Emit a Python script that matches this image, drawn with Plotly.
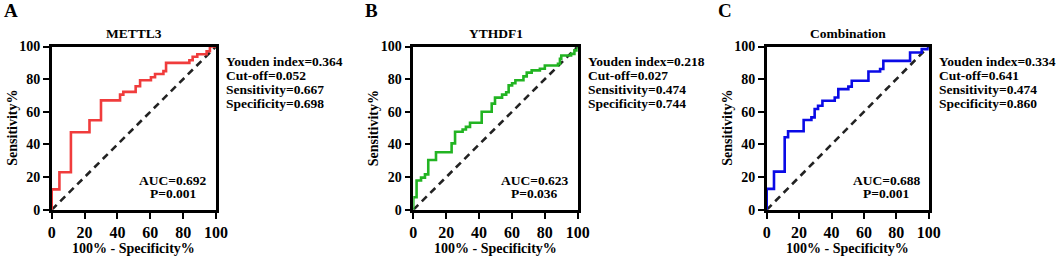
import plotly.graph_objects as go

W, H = 1056, 257

# ---------------- data ----------------
panel_letters = ["A", "B", "C"]
panel_titles = ["METTL3", "YTHDF1", "Combination"]
line_colors = ["#F03C3C", "#22B422", "#0A0AE6"]

fpr_A = [0, 0, 4.7, 11.7, 23, 30, 41.6, 43.6, 51.1, 53.8, 60.4, 62.9, 68, 69.6, 83.8, 85.8, 88.6, 94.3, 96.3, 100]
tpr_A = [0, 12.5, 23, 47.5, 54.8, 67, 70.5, 72.2, 75.7, 79.3, 81.2, 83.2, 84.9, 90, 91.6, 93.7, 95.3, 97.1, 100, 100]

fpr_B = [0, 0, 2, 4.7, 7.1, 9.1, 13.8, 23.3, 25.4, 30, 32, 34.5, 41.6, 47.7, 49.7, 54, 56.5, 58, 60.1, 62.1, 67, 69, 72, 77, 80, 88, 89.2, 90, 96, 98, 100]
tpr_B = [0, 7.7, 17.9, 19.7, 21.7, 30.5, 35.2, 40.7, 47.8, 49.2, 50.8, 53.3, 60, 65, 68.7, 70.5, 72, 76.2, 77.5, 79.3, 81.7, 84, 85.4, 86.4, 88.4, 89.4, 92.5, 94.5, 95.5, 97.6, 100]

fpr_C = [0, 0, 4.5, 11.1, 13.2, 22.8, 27.6, 29.6, 31.7, 34.4, 42, 44.2, 50.4, 52.5, 62.8, 70, 72, 88.5, 95.7, 100]
tpr_C = [0, 12.8, 23.4, 44.4, 48.1, 55, 56.6, 61.7, 63.7, 66.8, 68.8, 73.9, 75.4, 79, 84.7, 86.2, 91.2, 96.3, 98.4, 100]

youden = ["0.364", "0.218", "0.334"]
cutoff = ["0.052", "0.027", "0.641"]
sensitivity = ["0.667", "0.474", "0.474"]
specificity = ["0.698", "0.744", "0.860"]
auc = ["0.692", "0.623", "0.688"]
pval = ["0.001", "0.036", "0.001"]

tick_vals = [0, 20, 40, 60, 80, 100]
x_title = "100% - Specificity%"
y_title = "Sensitivity%"

# ---------------- layout geometry (pixels) ----------------
plot_x = [(51.7, 216.0), (413.3, 577.7), (766.7, 928.7)]
plot_top, plot_bot = 46.5, 209.8
letter_x = [2, 363, 716]

FONT = "Liberation Serif"

def px(x):
    return x / W

def py(y):
    return 1 - y / H

fig = go.Figure()
curves = [(fpr_A, tpr_A), (fpr_B, tpr_B), (fpr_C, tpr_C)]

annotations = []

def ann(x, y, text, size, xanchor="center", angle=0):
    annotations.append(dict(xref="paper", yref="paper", x=px(x), y=py(y),
                            xanchor=xanchor, yanchor="middle", text=f"<b>{text}</b>",
                            showarrow=False, textangle=angle,
                            font=dict(family=FONT, size=size, color="black")))

for i in range(3):
    xa = "x" if i == 0 else f"x{i+1}"
    ya = "y" if i == 0 else f"y{i+1}"
    fx, ty = curves[i]
    fig.add_trace(go.Scatter(x=[0, 100], y=[0, 100], mode="lines",
                             line=dict(color="#222222", width=2.6, dash="7px,5px"),
                             xaxis=xa, yaxis=ya, showlegend=False, hoverinfo="skip",
                             cliponaxis=False))
    fig.add_trace(go.Scatter(x=fx, y=ty, mode="lines", line_shape="hv",
                             line=dict(color=line_colors[i], width=2.6),
                             xaxis=xa, yaxis=ya, showlegend=False))
    axis_common = dict(range=[0, 100], tickvals=tick_vals, showgrid=False, zeroline=False,
                       showline=True, linecolor="black", linewidth=2.5, mirror=True,
                       ticks="outside", ticklen=6, tickwidth=2, tickcolor="black",
                       fixedrange=True, automargin=False)
    xkey = "xaxis" if i == 0 else f"xaxis{i+1}"
    ykey = "yaxis" if i == 0 else f"yaxis{i+1}"
    fig.update_layout(**{
        xkey: dict(axis_common, domain=[px(plot_x[i][0]), px(plot_x[i][1])], anchor=ya,
                   tickfont=dict(family=FONT, size=16, color="black", weight="bold")),
        ykey: dict(axis_common, domain=[py(plot_bot), py(plot_top)], anchor=xa,
                   tickfont=dict(family=FONT, size=14, color="black", weight="bold")),
    })
    cx = (plot_x[i][0] + plot_x[i][1]) / 2
    ann(letter_x[i], 11, panel_letters[i], 19, xanchor="left")
    ann(cx, 34, panel_titles[i], 13.5)
    ann(cx, 248, x_title, 14)
    ann(plot_x[i][0] - 40, 128, y_title, 14, angle=-90)
    lines = [f"Youden index={youden[i]}", f"Cut-off={cutoff[i]}",
             f"Sensitivity={sensitivity[i]}", f"Specificity={specificity[i]}"]
    for k, t in enumerate(lines):
        ann(plot_x[i][1] + 8, 61 + 14 * k, t, 13.5, xanchor="left")
    ax = plot_x[i][0] + (plot_x[i][1] - plot_x[i][0]) * 0.74
    ann(ax, 180, f"AUC={auc[i]}", 13.5)
    ann(ax, 193.5, f"P={pval[i]}", 13.5)

fig.update_layout(width=W, height=H, margin=dict(l=0, r=0, t=0, b=0, pad=0, autoexpand=False),
                  paper_bgcolor="white", plot_bgcolor="white",
                  annotations=annotations, showlegend=False)

fig.write_html("out.html", config={"displayModeBar": False},
               post_script="document.body.style.margin='0';document.body.style.overflow='hidden';")
